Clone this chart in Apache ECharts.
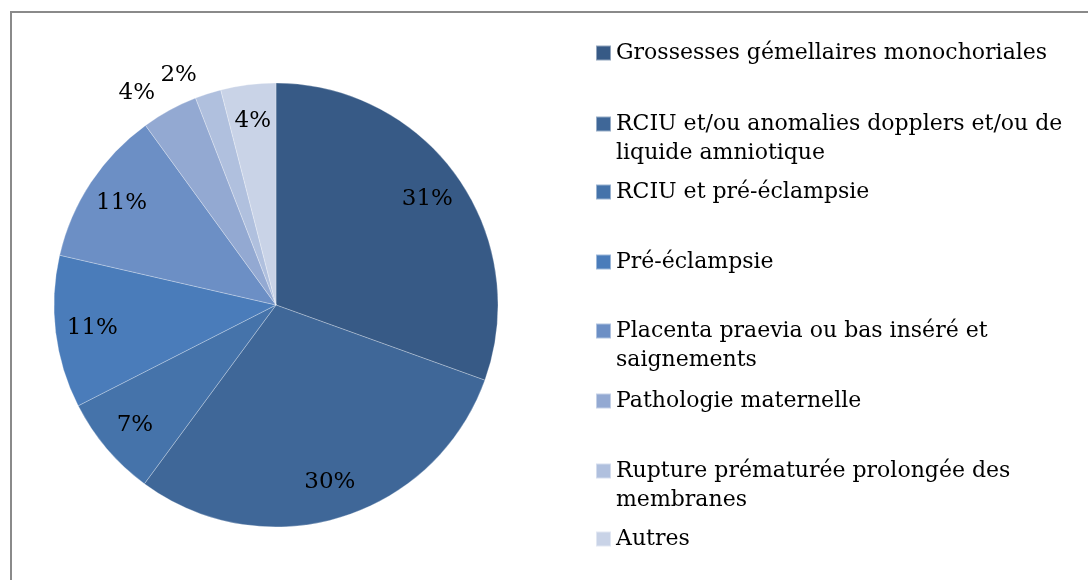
<!DOCTYPE html>
<html lang="fr">
  <head>
    <meta charset="UTF-8" />
    <title>Indications</title>
    <script src="https://cdn.jsdelivr.net/npm/echarts@6/dist/echarts.min.js"></script>
    <style>
      html, body { margin: 0; padding: 0; background: #fff; }
      #chart { width: 1088px; height: 580px; }
    </style>
  </head>
  <body>
    <div id="chart"></div>
    <script>
      // catégories et parts (en %)
      var categories = [
        "Grossesses gémellaires monochoriales",
        "RCIU et/ou anomalies dopplers et/ou de liquide amniotique",
        "RCIU et pré-éclampsie",
        "Pré-éclampsie",
        "Placenta praevia ou bas inséré et saignements",
        "Pathologie maternelle",
        "Rupture prématurée prolongée des membranes",
        "Autres"
      ];
      var shares = [30.5, 29.6, 7.4, 11.1, 11.4, 4.1, 1.9, 4.0];
      // texte de légende avec retour à la ligne
      var legendLabels = [
        "Grossesses gémellaires monochoriales",
        "RCIU et/ou anomalies dopplers et/ou de\nliquide amniotique",
        "RCIU et pré-éclampsie",
        "Pré-éclampsie",
        "Placenta praevia ou bas inséré et\nsaignements",
        "Pathologie maternelle",
        "Rupture prématurée prolongée des\nmembranes",
        "Autres"
      ];

      var colors = ["#375a86", "#3f6798", "#4573aa", "#4a7cba", "#6c8fc5", "#93a9d2", "#b0c0de", "#c9d3e7"];
      var font = "DejaVu Serif";
      var outside = [5, 6]; // étiquettes placées hors du disque

      var myChart = echarts.init(document.getElementById("chart"));

      var pieData = categories.map(function (name, i) {
        return { name: name, value: shares[i], itemStyle: { color: colors[i] } };
      });

      var labelData = categories.map(function (name, i) {
        var d = { name: name, value: shares[i] };
        if (outside.indexOf(i) >= 0) {
          d.label = { position: "outside" };
        }
        return d;
      });

      // une légende par entrée pour garder l'espacement de l'original
      // (ligne vide en tête des entrées sur deux lignes : le carré reste sur la 1re ligne)
      var legendCenters = [52, 123, 191, 261, 330, 400, 470, 538];
      var legends = categories.map(function (name, i) {
        var twoLines = legendLabels[i].indexOf("\n") >= 0;
        return {
          data: [name],
          left: 590,
          top: legendCenters[i] - (twoLines ? 43.5 : 14.5) - 4,
          orient: "vertical",
          itemWidth: 15,
          itemHeight: 15,
          itemGap: 0,
          icon: "rect",
          selectedMode: false,
          formatter: function () {
            return twoLines ? " \n" + legendLabels[i] : legendLabels[i];
          },
          textStyle: {
            fontFamily: font,
            fontSize: 22,
            color: "#000",
            lineHeight: 29
          }
        };
      });

      var R = 222;
      var option = {
        animation: false,
        graphic: [
          {
            type: "rect",
            shape: { x: 11, y: 12, width: 1200, height: 700 },
            style: { fill: null, stroke: "#8a8a8a", lineWidth: 2 },
            silent: true
          }
        ],
        legend: legends,
        series: [
          {
            type: "pie",
            center: [276, 305],
            radius: [0, R],
            startAngle: 90,
            clockwise: true,
            data: pieData,
            label: { show: false },
            labelLine: { show: false },
            itemStyle: { borderColor: "rgba(255,255,255,0.45)", borderWidth: 0.6 },
            emphasis: { disabled: true }
          },
          {
            // série transparente qui ne sert qu'à placer les étiquettes
            type: "pie",
            center: [276, 305],
            radius: [R * 0.64, R],
            startAngle: 90,
            clockwise: true,
            silent: true,
            avoidLabelOverlap: false,
            data: labelData,
            itemStyle: { color: "rgba(0,0,0,0)" },
            label: {
              show: true,
              position: "inside",
              fontFamily: font,
              fontSize: 23,
              color: "#000",
              formatter: function (p) {
                return Math.round(p.value) + "%";
              }
            },
            labelLine: { show: false, length: 20, length2: 0 },
            emphasis: { disabled: true }
          }
        ]
      };

      myChart.setOption(option);
    </script>
  </body>
</html>
